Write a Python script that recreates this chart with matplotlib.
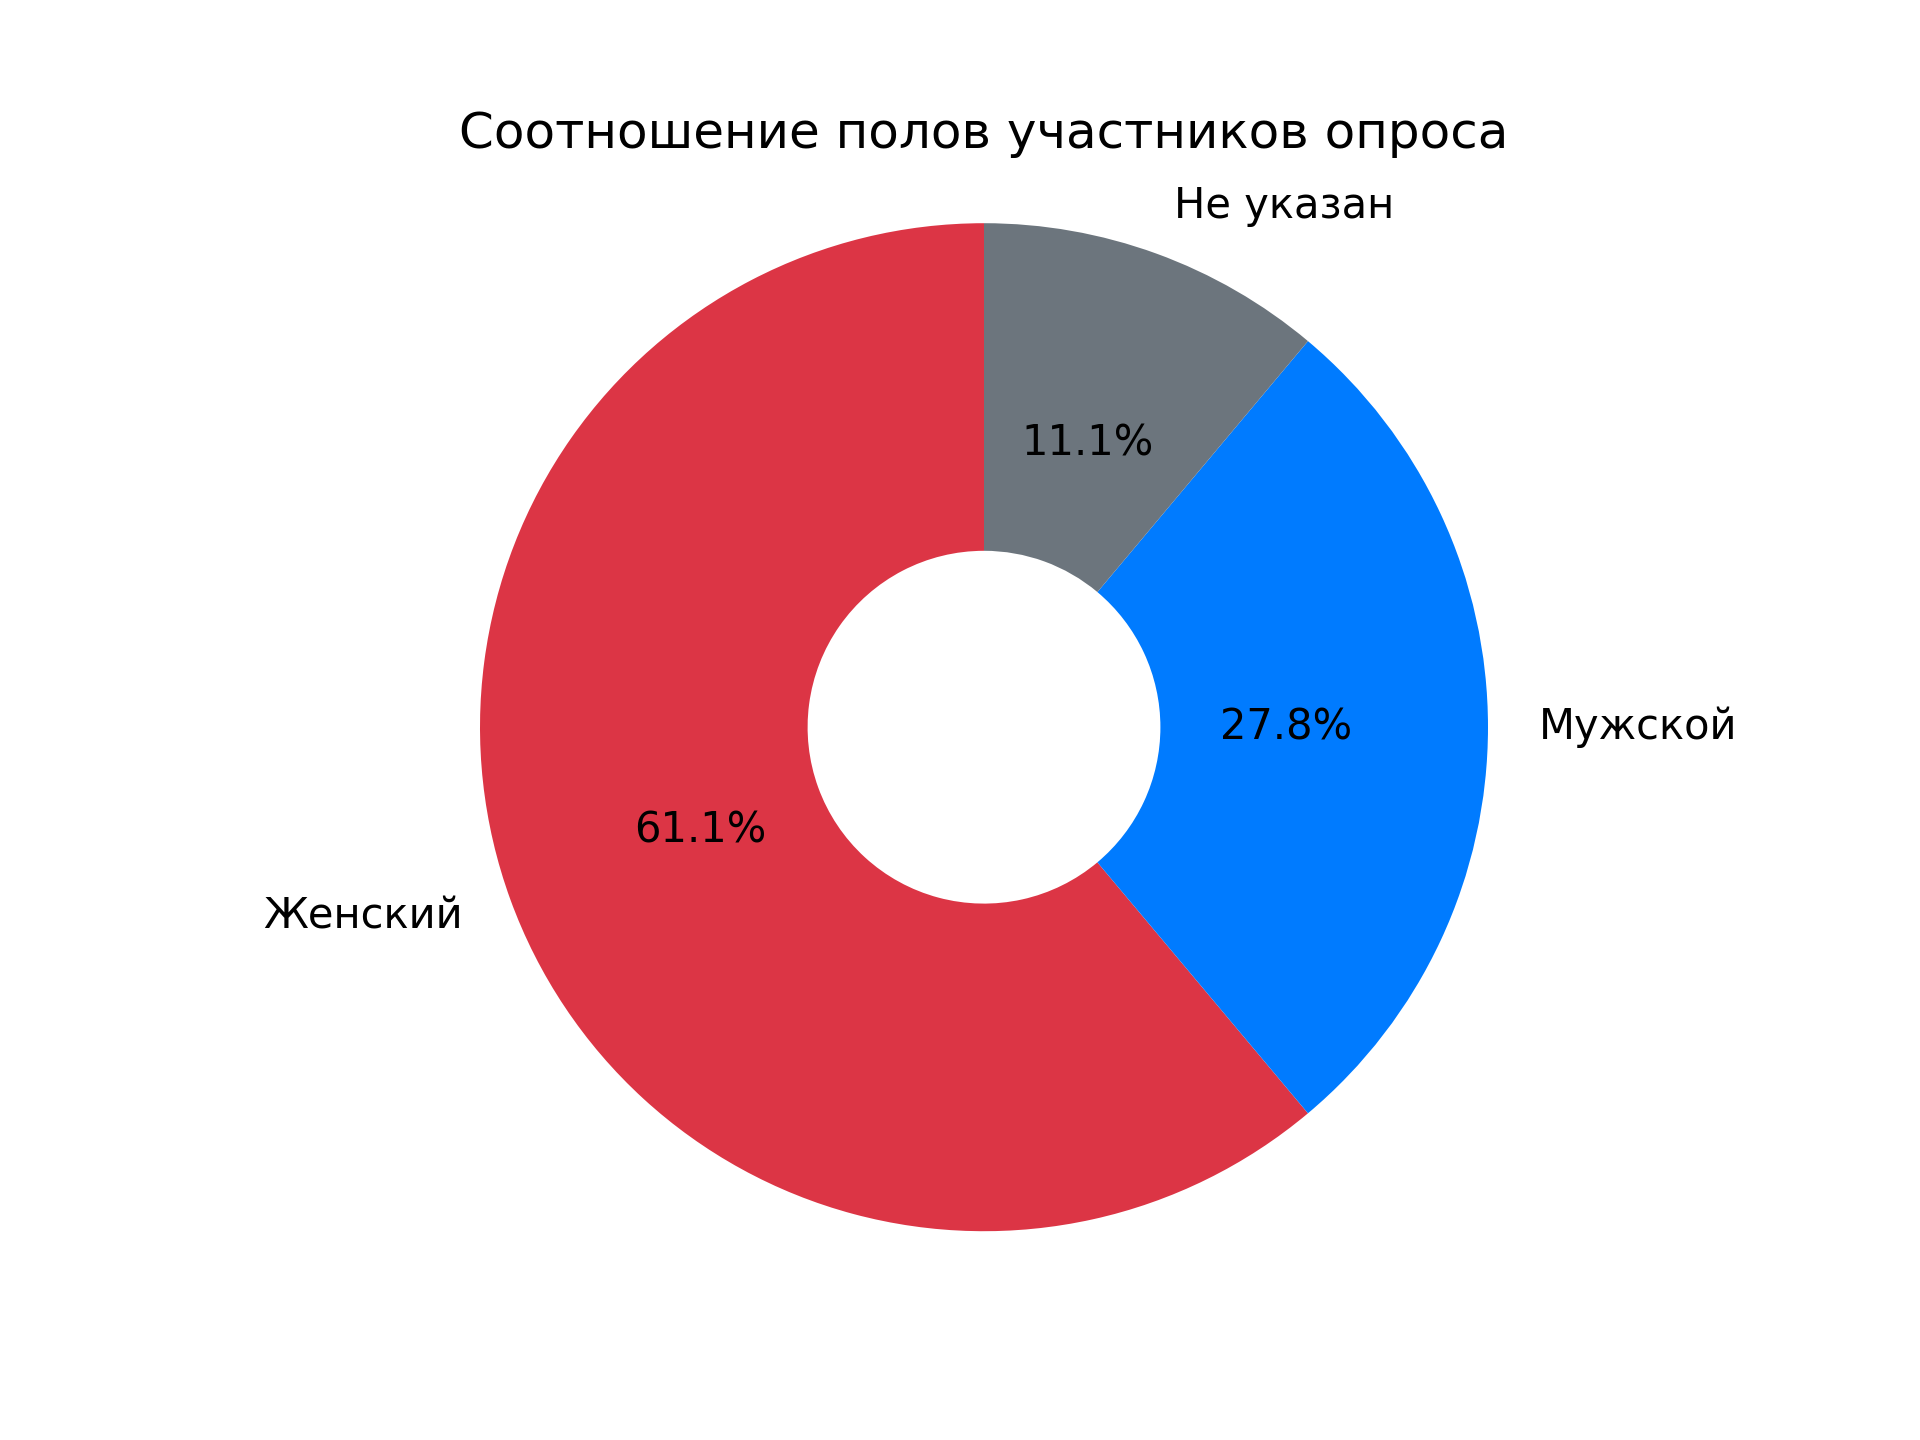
import matplotlib
matplotlib.use("Agg")
import matplotlib.pyplot as plt

labels = ["Женский", "Мужской", "Не указан"]
values = [11, 5, 2]
colors = ["#dc3545", "#007bff", "#6c757d"]
title = "Соотношение полов участников опроса"

fig, ax = plt.subplots(figsize=(6.4, 4.8), dpi=300)
ax.pie(values, labels=labels, colors=colors, autopct="%1.1f%%", startangle=90,
       wedgeprops=dict(width=0.65))
ax.set_title(title)
ax.axis("equal")
fig.savefig("out.png", dpi=300)
